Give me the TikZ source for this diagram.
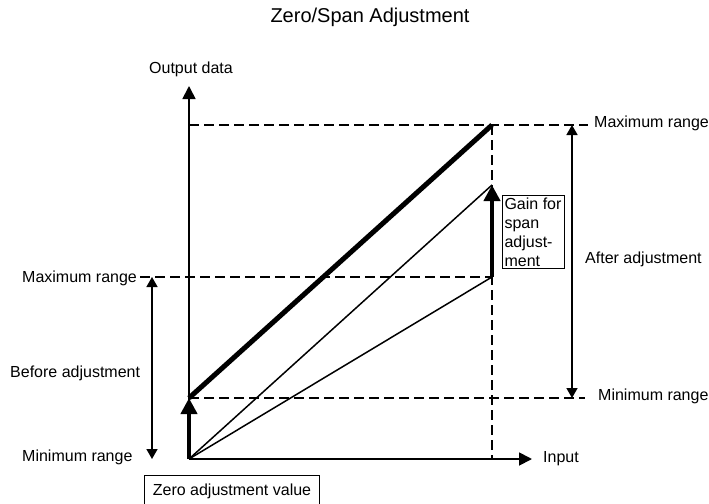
\documentclass[tikz,border=0pt]{standalone}
\usepackage{fontspec}
\setmainfont{Liberation Sans}
\usetikzlibrary{arrows.meta}

\begin{document}
\begin{tikzpicture}
  [x=1pt,y=-1pt,
   every node/.style={font=\fontsize{16}{19}\selectfont,inner sep=0pt},
   guide/.style={dash pattern=on 10pt off 5pt,line width=1.4pt},
   axis/.style={line width=1.8pt,-{Triangle[length=13pt,width=13pt]}},
   rangearrow/.style={line width=1.6pt,{Triangle[length=10pt,width=11pt]}-{Triangle[length=10pt,width=11pt]}},
   adjust/.style={line width=4.5pt,-{Triangle[length=16pt,width=16pt]}},
   label box/.style={draw,line width=0.8pt}]
  \useasboundingbox (0,0) rectangle (709,503);

  % points of the graph
  \coordinate (o) at (189,459);
  \coordinate (ytip) at (189,86);
  \coordinate (xtip) at (532,459);
  \coordinate (z) at (189,398);
  \coordinate (t) at (492,125);
  \coordinate (g) at (492,185);
  \coordinate (b) at (492,277);
  \coordinate (e) at (492,459);
  \coordinate (tl) at (189,125);
  \coordinate (tr) at (588,125);
  \coordinate (zr) at (585,398);
  \coordinate (bl) at (140,277);
  \coordinate (bmax) at (152,277);
  \coordinate (bmin) at (152,459);
  \coordinate (amax) at (572,125);
  \coordinate (amin) at (572,398);

  \node (title) at (370,17) [font=\fontsize{20}{24}\selectfont] {Zero/Span Adjustment};
  \node (outp) at (191,69) {Output data};
  \node (inp) at (543,459) [anchor=west] {Input};
  \node (lmax) at (22,278) [anchor=west] {Maximum range};
  \node (before) at (10,373) [anchor=west] {Before adjustment};
  \node (lmin) at (22,457) [anchor=west] {Minimum range};
  \node (rmax) at (594,123) [anchor=west] {Maximum range};
  \node (after) at (585,259) [anchor=west] {After adjustment};
  \node (rmin) at (598,396) [anchor=west] {Minimum range};
  \node (gainbox) at (533,232) [label box,align=left,inner sep=2.5pt] {Gain for\\span\\adjust-\\ment};
  % the bottom edge of this box falls outside the page
  \node (zerobox) at (232,491) [label box,inner xsep=8pt,minimum height=32pt] {Zero adjustment value};

  \foreach \from/\to in {tl/tr,z/zr,bl/b,t/e}
    \draw[guide] (\from) -- (\to);

  \draw[axis] (o) -- (ytip);
  \draw[axis] (o) -- (xtip);
  \draw[line width=5pt] (z) -- (t);
  \foreach \to in {g,b}
    \draw[line width=1.5pt] (o) -- (\to);
  \draw[adjust] (o) -- (z);
  \draw[adjust] (b) -- (g);
  \draw[rangearrow] (bmax) -- (bmin);
  \draw[rangearrow] (amax) -- (amin);

\end{tikzpicture}
\end{document}
